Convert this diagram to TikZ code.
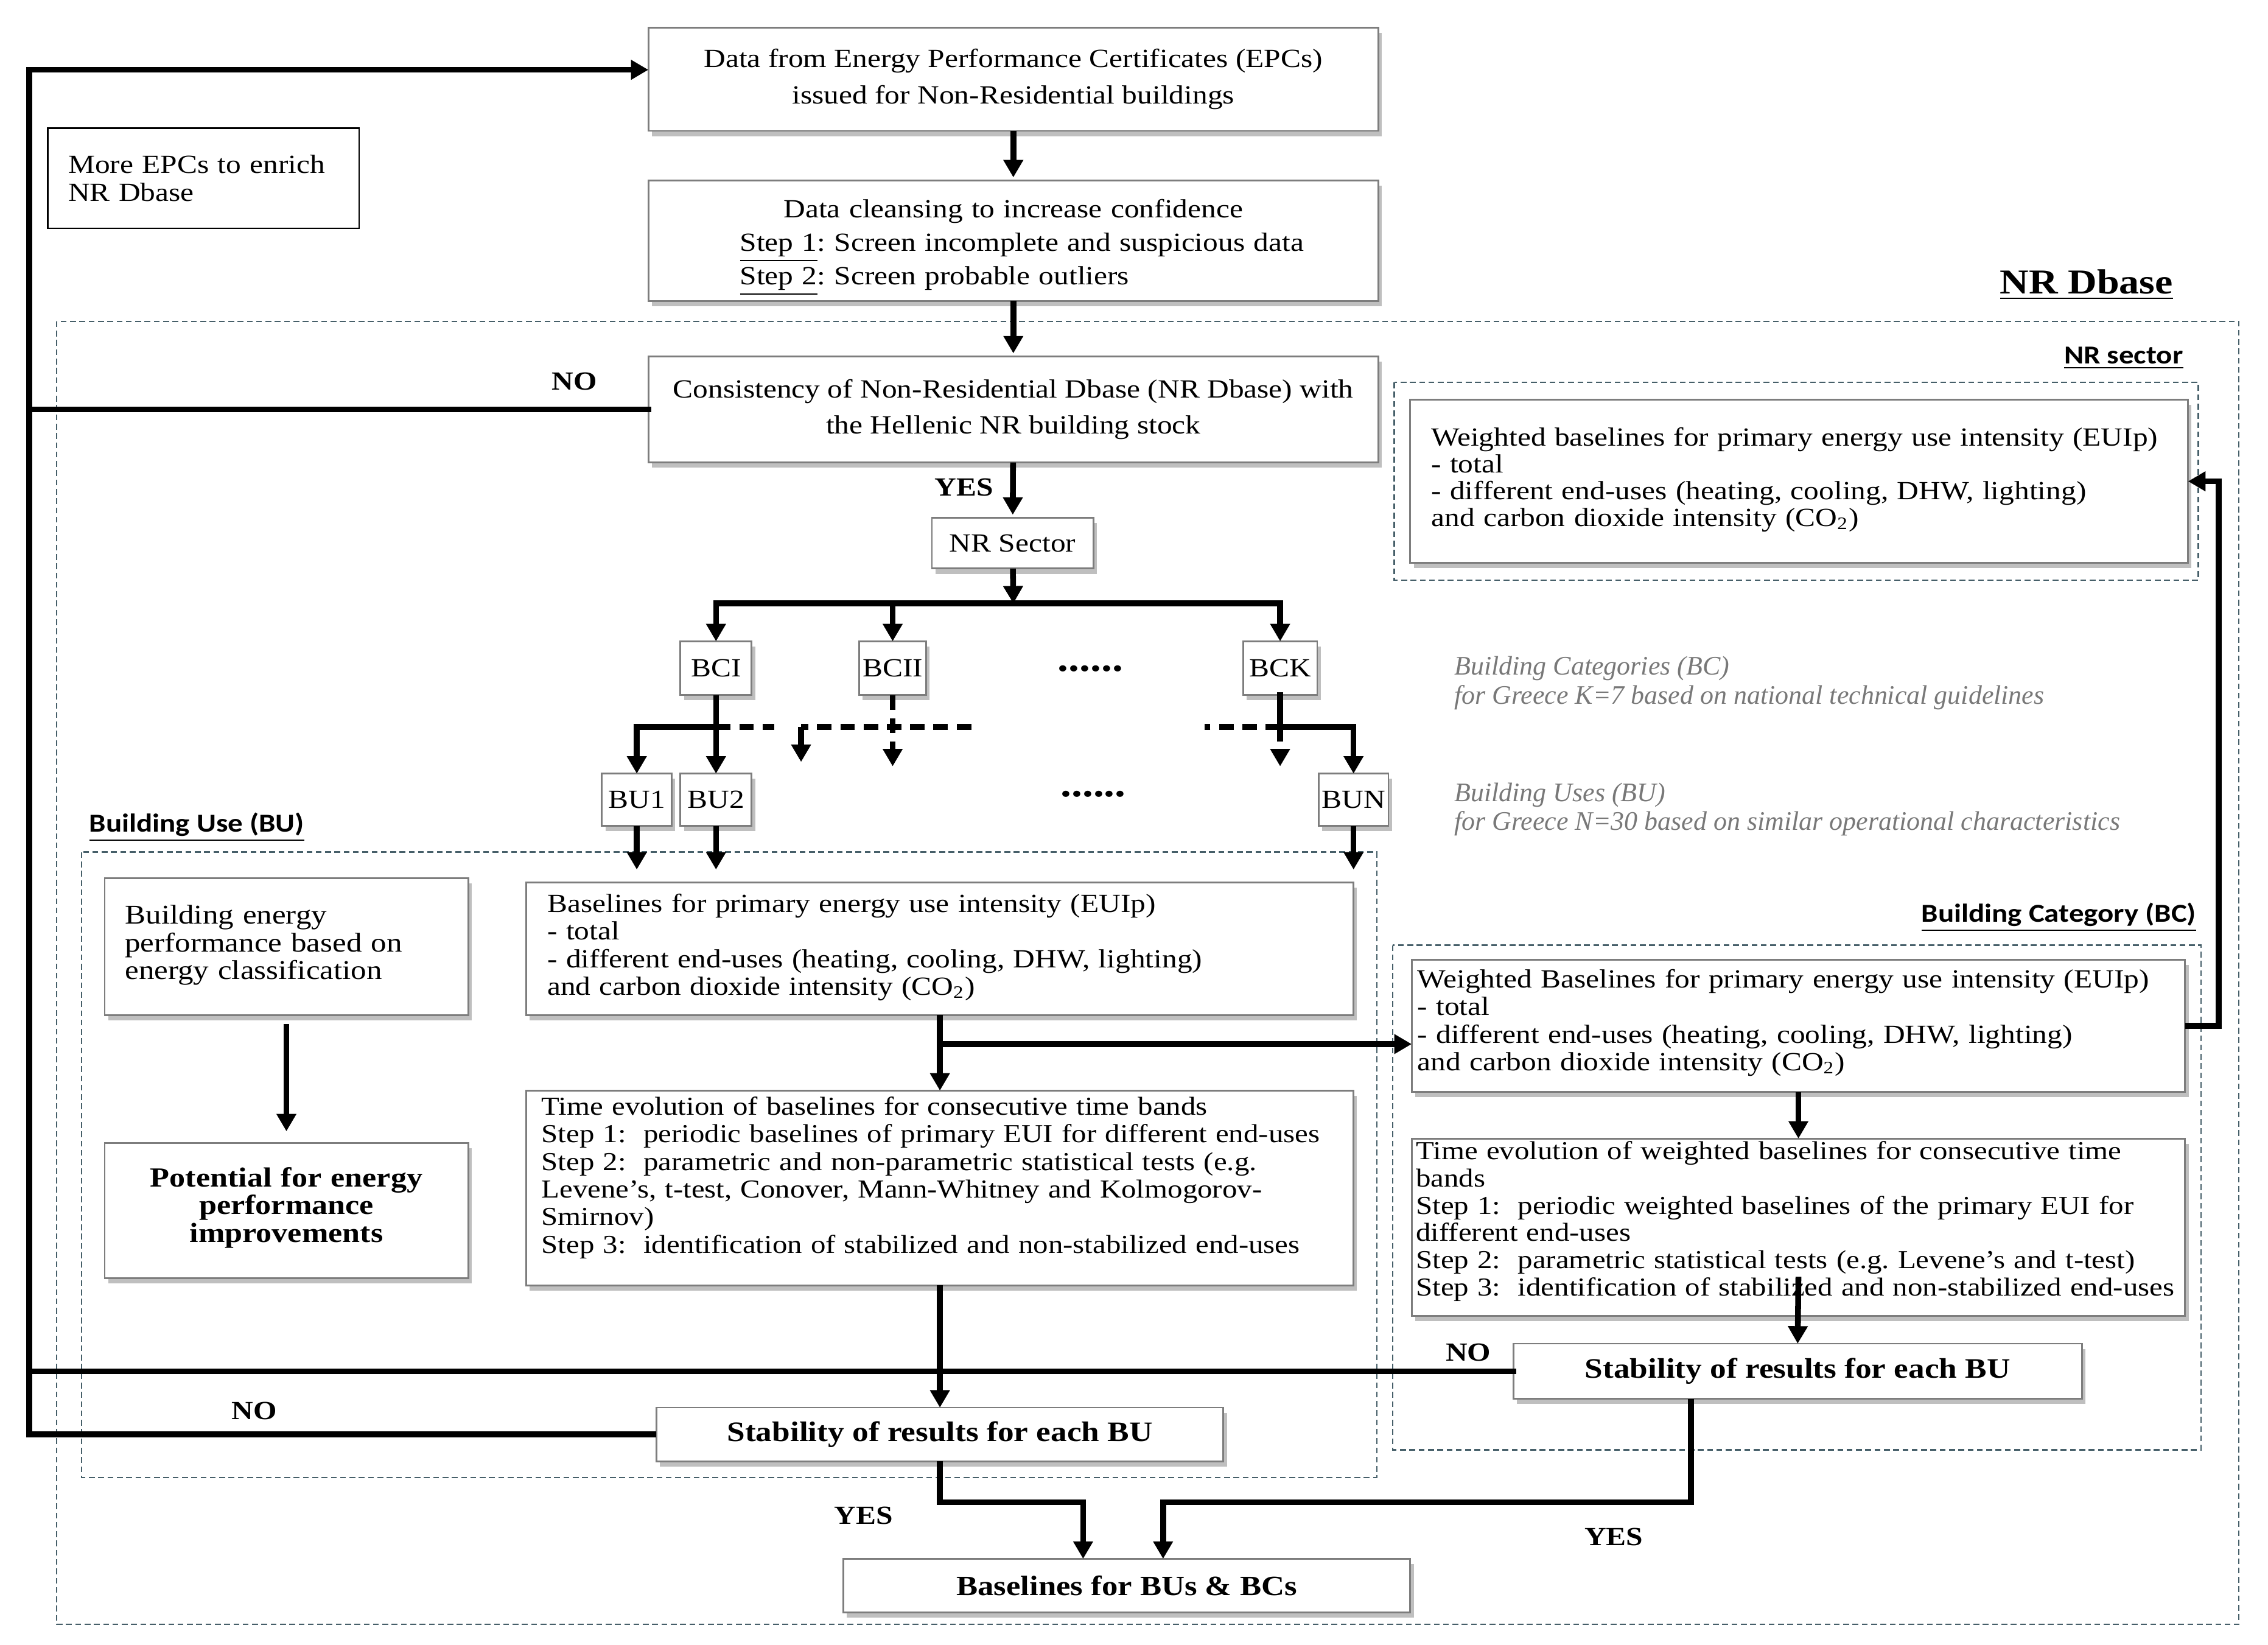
\documentclass[tikz,border=0pt]{standalone}
\usepackage{fontspec}
\setmainfont{Liberation Serif}[FakeStretch=1.15]
\newfontfamily\plainserif{Liberation Serif}
\newfontfamily\calib{Carlito}[FakeStretch=1.15]
\usetikzlibrary{arrows.meta,shadows,calc}
\definecolor{boxgray}{RGB}{125,125,125}
\definecolor{dashcol}{RGB}{70,95,105}
\definecolor{notegray}{RGB}{120,120,120}
\frenchspacing
\tikzset{
  box/.style={draw=boxgray, line width=0.6pt, fill=white, inner sep=0pt, outer sep=0pt,
    drop shadow={shadow xshift=1.2pt, shadow yshift=-1.8pt, opacity=0.25, fill=black}},
  sbox/.style={box, minimum height=18.5pt, font=\fontsize{9}{10}\selectfont},
  conn/.style={line width=2pt, black, line cap=rect},
  arr/.style={line width=2pt, black, -{Triangle[length=6pt,width=6.5pt]}},
  dconn/.style={line width=2pt, black, dash pattern=on 5pt off 3pt},
  darr/.style={dconn, -{Triangle[length=6pt,width=6.5pt]}},
  region/.style={draw=dashcol, line width=0.5pt, dash pattern=on 2pt off 1.2pt},
  lbl/.style={font=\bfseries\fontsize{9}{10}\selectfont, inner sep=0pt},
  head/.style={font=\calib\bfseries\fontsize{8.9}{10}\selectfont, inner sep=0pt},
  note/.style={font=\plainserif\itshape\fontsize{9.2}{10}\selectfont, text=notegray, inner sep=0pt, anchor=base west},
  dots/.style={font=\bfseries\fontsize{13}{14}\selectfont, inner sep=0pt},
  txt9/.style={font=\fontsize{9}{9.5}\selectfont, align=left}
}
\begin{document}
\begin{tikzpicture}[x=0.5pt,y=-0.5pt]
\useasboundingbox (0,0) rectangle (1560,1131);

% regions
\draw[region] (39,221) rectangle (1540,1117);
\draw[region] (959,263) rectangle (1512,399);
\draw[region] (56,586) rectangle (947,1016);
\draw[region] (958,650) rectangle (1514,997);

\node[font=\bfseries\fontsize{12}{14}\selectfont, inner sep=0pt, anchor=base east] (dbl) at (1495,202) {\underline{NR Dbase}};
\node[head, anchor=base east] (nrsl) at (1502,250) {\underline{NR sector}};
\node[head, anchor=base west] (bul) at (61,572) {\underline{Building Use (BU)}};
\node[head, anchor=base east] (bcl) at (1511,634) {\underline{Building Category (BC)}};

% top chain
\node[box, minimum width=251pt, minimum height=35.5pt, align=center, font=\fontsize{9}{12.5}\selectfont] (data) at (697,54.5)
  {Data from Energy Performance Certificates (EPCs)\\issued for Non-Residential buildings};
\node[box, minimum width=251pt, minimum height=41.5pt, text width=204pt, align=left, font=\fontsize{9}{11.5}\selectfont] (clean) at (697,165.5)
  {\rule{0pt}{11pt}\makebox[204pt]{Data cleansing to increase confidence}\\\hspace*{8pt}\underline{Step 1}: Screen incomplete and suspicious data\\\hspace*{8pt}\underline{Step 2}: Screen probable outliers};
\node[box, minimum width=251pt, minimum height=36.5pt, align=center, font=\fontsize{9}{12.5}\selectfont] (cons) at (697,281.5)
  {Consistency of Non-Residential Dbase (NR Dbase) with\\the Hellenic NR building stock};
\node[draw=black, line width=0.6pt, fill=white, minimum width=107pt, minimum height=34.5pt, text width=93pt, inner sep=0pt, txt9] (more) at (140,122.5)
  {More EPCs to enrich\\NR Dbase};

\node[box, minimum width=55.5pt, minimum height=17.5pt, font=\fontsize{9}{10}\selectfont] (nrs) at (696.5,373.5) {NR Sector};

% categories and uses
\node[sbox, minimum width=24.5pt] (BCI) at (492.5,459.5) {BCI};
\node[sbox, minimum width=23pt] (BCII) at (614,459.5) {BCII};
\node[sbox, minimum width=25.5pt] (BCK) at (880.5,459.5) {BCK};
\node[dots] (dots1) at (750,460) {......};
\node[sbox, minimum width=24pt, minimum height=18pt] (BU1) at (438,550) {BU1};
\node[sbox, minimum width=24.5pt, minimum height=18pt] (BU2) at (492.5,550) {BU2};
\node[sbox, minimum width=24pt, minimum height=18pt] (BUN) at (931,550) {BUN};
\node[dots] (dots2) at (752,546) {......};

\node[note] (bcn1) at (1000,464) {Building Categories (BC)};
\node[note] (bcn2) at (1000,484) {for Greece K=7 based on national technical guidelines};
\node[note] (bun1) at (1000,551) {Building Uses (BU)};
\node[note] (bun2) at (1000,571) {for Greece N=30 based on similar operational characteristics};

% NR sector box
\node[box, minimum width=267.5pt, minimum height=56pt, text width=253pt, font=\fontsize{9}{9.2}\selectfont, align=left] (nrw) at (1237.5,331)
  {Weighted baselines for primary energy use intensity (EUIp)\\- total\\- different end-uses (heating, cooling, DHW, lighting)\\and carbon dioxide intensity (CO\textsubscript{2})\\[-6.2pt]\mbox{}};

% BU boxes
\node[box, minimum width=125pt, minimum height=47pt, text width=111pt, font=\fontsize{9.3}{9.5}\selectfont, align=left] (bep) at (197,651)
  {Building energy\\performance based on\\energy classification\\[-6.5pt]\mbox{}};
\node[box, minimum width=125pt, minimum height=46.5pt, text width=123pt, align=center, font=\bfseries\fontsize{9.5}{9.5}\selectfont] (pot) at (197,832.5)
  {Potential for energy\\performance\\improvements\\[-5.5pt]\mbox{}};
\node[box, minimum width=284.5pt, minimum height=45.5pt, text width=270pt, txt9] (bub) at (646.5,652.5)
  {Baselines for primary energy use intensity (EUIp)\\- total\\- different end-uses (heating, cooling, DHW, lighting)\\and carbon dioxide intensity (CO\textsubscript{2})\\[-6.5pt]\mbox{}};
\node[box, minimum width=284.5pt, minimum height=67pt, text width=274pt, font=\fontsize{8.9}{9.5}\selectfont, align=left] (bute) at (646.5,817)
  {Time evolution of baselines for consecutive time bands\\Step 1:\ \ periodic baselines of primary EUI for different end-uses\\Step 2:\ \ parametric and non-parametric statistical tests (e.g.\\Levene’s, t-test, Conover, Mann-Whitney and Kolmogorov-\\Smirnov)\\Step 3:\ \ identification of stabilized and non-stabilized end-uses\\[-0.5pt]\mbox{}};
\node[box, minimum width=195pt, minimum height=18.5pt, font=\bfseries\fontsize{9.7}{10}\selectfont] (stabL) at (646.5,986.5) {Stability of results for each BU};

% BC boxes
\node[box, minimum width=266pt, minimum height=45.5pt, text width=262pt, txt9] (bcw) at (1237,705.5)
  {Weighted Baselines for primary energy use intensity (EUIp)\\- total\\- different end-uses (heating, cooling, DHW, lighting)\\and carbon dioxide intensity (CO\textsubscript{2})\\[-5.5pt]\mbox{}};
\node[box, minimum width=266pt, minimum height=61pt, text width=263pt, font=\fontsize{8.9}{9.4}\selectfont, align=left] (bcte) at (1237,844)
  {\makebox[263pt][s]{Time evolution of weighted baselines for consecutive time}\\bands\\Step 1:\ \ periodic weighted baselines of the primary EUI for\\different end-uses\\Step 2:\ \ parametric statistical tests (e.g. Levene’s and t-test)\\Step 3:\ \ identification of stabilized and non-stabilized end-uses\\[-3.4pt]\mbox{}};
\node[box, minimum width=195.5pt, minimum height=19pt, font=\bfseries\fontsize{9.7}{10}\selectfont] (stabR) at (1236.5,943) {Stability of results for each BU};

\node[box, minimum width=195pt, minimum height=18.5pt, font=\bfseries\fontsize{9.6}{10}\selectfont] (final) at (775,1090.5) {Baselines for BUs \& BCs};

% labels
\node[lbl, anchor=base] (no1) at (395,268) {NO};
\node[lbl, anchor=base] (no2) at (175,976) {NO};
\node[lbl, anchor=base] (no3) at (1010,936) {NO};
\node[lbl, anchor=base] (yes1) at (663,341) {YES};
\node[lbl, anchor=base] (yes2) at (594,1048) {YES};
\node[lbl, anchor=base] (yes3) at (1110,1063) {YES};

% coordinates
\coordinate (lt) at (20,48);
\coordinate (bar) at (697,415);
\coordinate (hb) at (0,500);
\coordinate (tipA) at (0,527);
\coordinate (d2r) at (668,500);
\coordinate (d2l) at (551,500);
\coordinate (buIn) at (0,598);
\coordinate (br) at (646.5,718);
\coordinate (fL) at (745,1033);
\coordinate (fR) at (800,1033);
\coordinate (xR) at (1163,0);
\coordinate (inR) at (1237,878);

% main chain
\draw[arr, shorten >=1pt] (data) -- (clean);
\draw[arr, shorten >=1pt] (clean) -- (cons);
\draw[arr, shorten >=1pt] (cons) -- (nrs);
\draw[arr] (nrs) -- (bar);
\draw[conn] (BCI.north |- bar) -- (BCK.north |- bar);
\draw[arr] (BCI.north |- bar) -- (BCI.north);
\draw[arr] (BCII.north |- bar) -- (BCII.north);
\draw[arr] (BCK.north |- bar) -- (BCK.north);

% branches to uses
\draw[arr] (BCI.south) -- (BU2.north);
\draw[arr] (BCI.south |- hb) -| (BU1.north);
\draw[dconn] (BCI.south |- hb) -- ++(40,0);
\draw[darr] (BCII.south) -- (BCII.south |- tipA);
\draw[dconn] (d2r) -- (d2l);
\draw[arr] (d2l) -- ++(0,24);
\draw[conn] (BCK.south) -- (BCK.south |- hb);
\draw[dconn] (BCK.south |- hb) -- ++(-52,0);
\draw[arr] (BCK.south |- hb) -| (BUN.north);
\draw[darr] (BCK.south |- hb) -- (BCK.south |- tipA);
\draw[arr] (BU1.south) -- (BU1.south |- buIn);
\draw[arr] (BU2.south) -- (BU2.south |- buIn);
\draw[arr] (BUN.south) -- (BUN.south |- buIn);

% loops
\draw[arr] (stabL.west) -| (lt) -- (lt -| data.west);
\draw[conn] (cons.west) -- (cons.west -| lt);
\draw[conn] (stabR.west) -- (stabR.west -| lt);

% BU flow
\draw[arr, shorten <=3pt, shorten >=4pt] (bep) -- (pot);
\draw[arr] (bub) -- (bute);
\draw[arr] (br) -- (bcw.west |- br);
\draw[arr] (bute) -- (stabL);
\draw[arr] (stabL.south) |- (fL) -- (fL |- final.north);
\draw[arr] (stabR.south -| xR) |- (fR) -- (fR |- final.north);

% BC flow
\draw[arr] (bcw) -- (bcte);
\draw[arr] (inR) -- (stabR.north);
\draw[arr] (bcw.east) -- ++(23,0) |- (nrw.east);
\end{tikzpicture}
\end{document}
